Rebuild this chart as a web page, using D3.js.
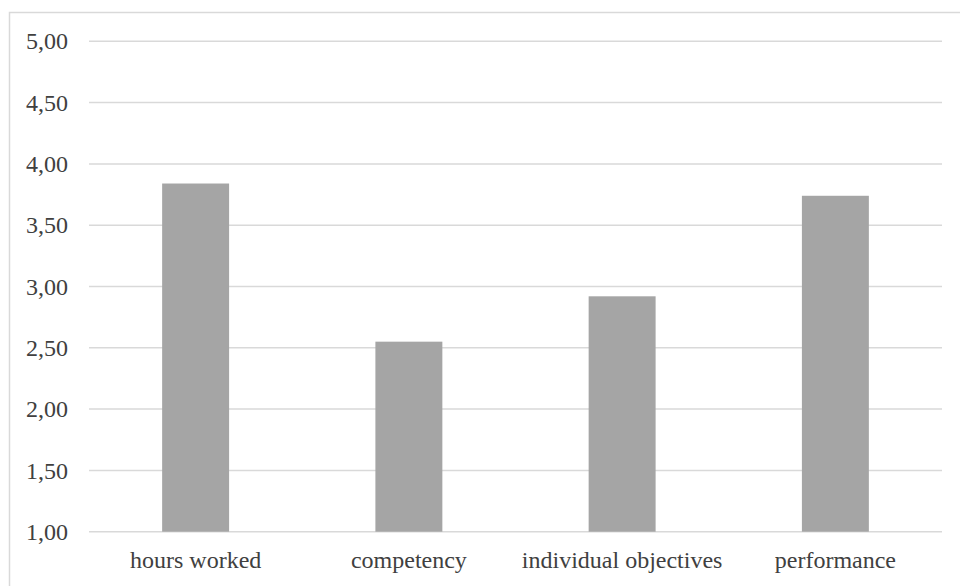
<!DOCTYPE html>
<html>
<head>
<meta charset="utf-8">
<script src="https://cdn.jsdelivr.net/npm/d3@7"></script>
<style>
  html, body { margin: 0; padding: 0; background: #fff; }
  svg { display: block; }
</style>
</head>
<body>
<svg id="chart" width="960" height="586"></svg>
<script>
// Mean scores per factor
const categories = ["hours worked", "competency", "individual objectives", "performance"];
const values = [3.84, 2.55, 2.92, 3.74];
const yTicks = [1.0, 1.5, 2.0, 2.5, 3.0, 3.5, 4.0, 4.5, 5.0];

const W = 960, H = 586;
const margin = { left: 89, right: 18, top: 41.3, bottom: 54.3 };
const svg = d3.select("#chart");

// outer frame
svg.append("rect")
  .attr("x", 9.5).attr("y", 12.5)
  .attr("width", W + 20).attr("height", H + 20)
  .attr("fill", "none").attr("stroke", "#d9d9d9").attr("stroke-width", 1.5);

const x = d3.scaleBand()
  .domain(categories)
  .range([margin.left, W - margin.right])
  .paddingInner(0.686).paddingOuter(0.343);

const y = d3.scaleLinear()
  .domain([1, 5])
  .range([H - margin.bottom, margin.top]);

// horizontal gridlines
svg.append("g")
  .selectAll("line")
  .data(yTicks)
  .join("line")
  .attr("x1", margin.left).attr("x2", W - margin.right)
  .attr("y1", d => y(d)).attr("y2", d => y(d))
  .attr("stroke", "#d9d9d9").attr("stroke-width", 1.5);

// bars
svg.append("g")
  .selectAll("rect")
  .data(values)
  .join("rect")
  .attr("x", (d, i) => x(categories[i]))
  .attr("width", x.bandwidth())
  .attr("y", d => y(d))
  .attr("height", d => y(1) - y(d))
  .attr("fill", "#a5a5a5");

const styleText = g => g.selectAll("text")
  .attr("font-family", "Liberation Serif")
  .attr("font-size", 24)
  .attr("fill", "#404040");

// y axis labels
const fmt = d => d3.format(".2f")(d).replace(".", ",");
const yAxis = d3.axisLeft(y).tickValues(yTicks).tickFormat(fmt).tickSize(0).tickPadding(21);
svg.append("g")
  .attr("transform", `translate(${margin.left},0)`)
  .call(yAxis)
  .call(g => g.select(".domain").remove())
  .call(styleText);

// x axis labels
const xAxis = d3.axisBottom(x).tickSize(0).tickPadding(19);
svg.append("g")
  .attr("transform", `translate(0,${y(1)})`)
  .call(xAxis)
  .call(g => g.select(".domain").remove())
  .call(styleText);
</script>
</body>
</html>
